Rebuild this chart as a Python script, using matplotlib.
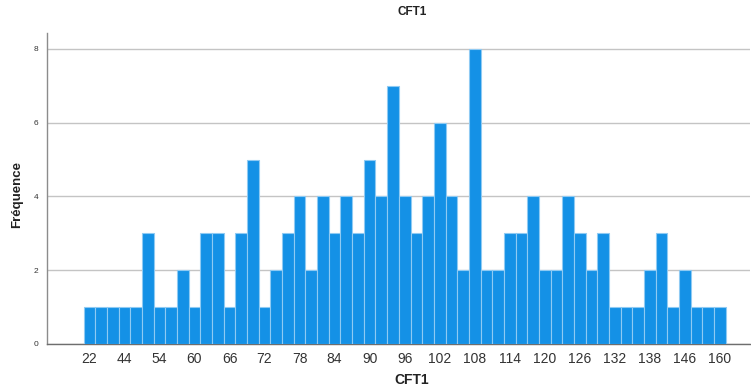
import numpy as np
import matplotlib.pyplot as plt

plt.rcParams['font.family'] = ['Liberation Sans', 'DejaVu Sans']

# ---------------- Data ---------------- #
# distinct CFT1 scores (only every third one is labelled in the chart)
scores = [22, 30, 38, 44, 50, 52, 54, 56, 58, 60,
          62, 64, 66, 68, 70, 72, 74, 76, 78, 80,
          82, 84, 86, 88, 90, 92, 94, 96, 98, 100,
          102, 104, 106, 108, 110, 112, 114, 116, 118, 120,
          122, 124, 126, 128, 130, 132, 134, 136, 138, 140,
          142, 146, 150, 154, 160]
counts = [1, 1, 1, 1, 1, 3, 1, 1, 2, 1,
          3, 3, 1, 3, 5, 1, 2, 3, 4, 2,
          4, 3, 4, 3, 5, 4, 7, 4, 3, 4,
          6, 4, 2, 8, 2, 2, 3, 3, 4, 2,
          2, 4, 3, 2, 3, 1, 1, 1, 2, 3,
          1, 2, 1, 1, 1]
y_ticks = [0, 2, 4, 6, 8]

BAR_COLOR = '#1491e6'
EDGE_COLOR = '#8fcaf3'

# ---------------- Plot ---------------- #
fig = plt.figure(figsize=(7.51, 3.87), dpi=100)
ax = fig.add_axes([47 / 751, 1 - 344 / 387, 703 / 751, 311 / 387])

x = np.arange(len(scores))
ax.bar(x, counts, width=1.0, color=BAR_COLOR, edgecolor=EDGE_COLOR, linewidth=0.8, zorder=3)

ax.set_xlim(-3.63, len(scores) + 1.57)
ax.set_ylim(0, 8.43)

# labels every third category, like SPSS does
ax.set_xticks(x[::3])
ax.set_xticklabels([str(s) for s in scores[::3]], fontsize=10, color='#333333')
ax.tick_params(axis='x', length=0, pad=6)

ax.set_yticks(y_ticks)
ax.set_yticklabels([str(v) for v in y_ticks], fontsize=6, color='#333333')
ax.tick_params(axis='y', length=0, pad=6)

ax.grid(axis='y', color='#c4c4c4', linewidth=1.0, zorder=0)
ax.set_axisbelow(True)

for side in ['top', 'right']:
    ax.spines[side].set_visible(False)
ax.spines['left'].set_color('#8c8c8c')
ax.spines['bottom'].set_color('#6e6e6e')
ax.spines['left'].set_linewidth(1.0)
ax.spines['bottom'].set_linewidth(1.0)

fig.text(412 / 751, 1 - 12 / 387, 'CFT1', ha='center', va='center',
         fontsize=8.5, fontweight='bold', color='#222222')
fig.text(412 / 751, 1 - 380 / 387, 'CFT1', ha='center', va='center',
         fontsize=10, fontweight='bold', color='#222222')
fig.text(17 / 751, 1 - 195 / 387, 'Fréquence', ha='center', va='center',
         rotation=90, fontsize=9.5, fontweight='bold', color='#222222')

fig.savefig('out.png', dpi=100)
